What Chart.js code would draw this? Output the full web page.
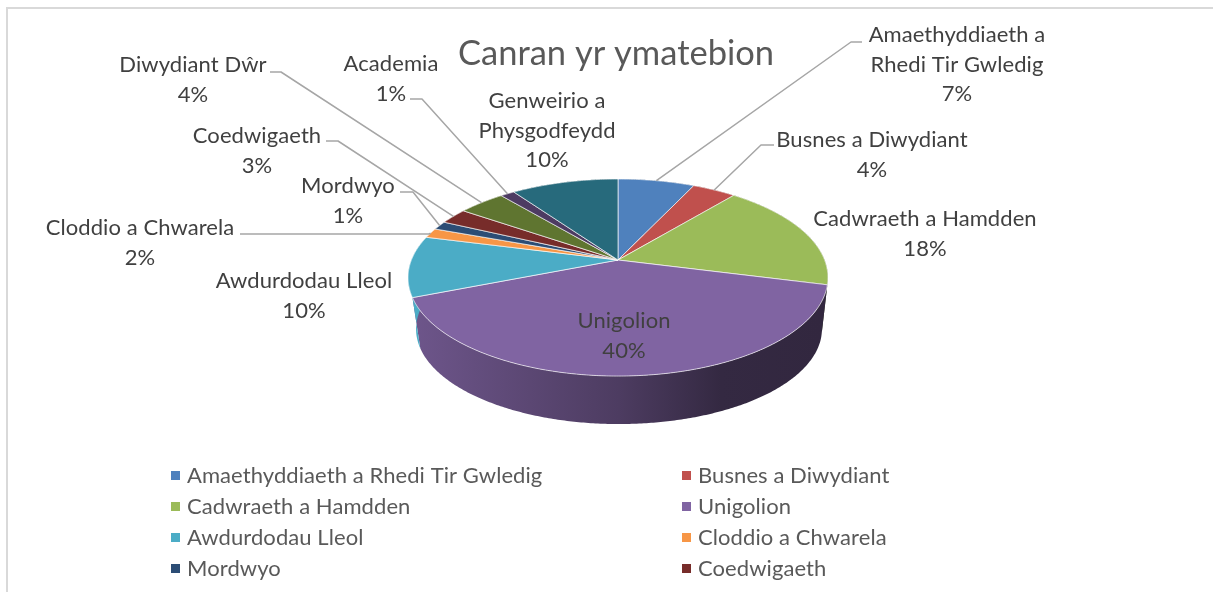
<!DOCTYPE html>
<html>
<head>
<meta charset="utf-8">
<title>Canran yr ymatebion</title>
<script src="https://cdn.jsdelivr.net/npm/chart.js@4"></script>
<style>
    html, body { margin: 0; padding: 0; background: #fff; overflow: hidden; }
    #frame { position: absolute; left: 6px; top: 7px; right: 0; bottom: 0; border-left: 2px solid #d9d9d9; border-top: 2px solid #d9d9d9; }
    canvas { position: absolute; left: 0; top: 0; }
</style>
</head>
<body>
<div id="frame"></div>
<canvas id="pieChart" width="1213" height="592"></canvas>
<script>
// Datos
const chartTitle = 'Canran yr ymatebion';
const categories = [
    'Amaethyddiaeth a Rhedi Tir Gwledig',
    'Busnes a Diwydiant',
    'Cadwraeth a Hamdden',
    'Unigolion',
    'Awdurdodau Lleol',
    'Cloddio a Chwarela',
    'Mordwyo',
    'Coedwigaeth',
    'Diwydiant Dŵr',
    'Academia',
    'Genweirio a Physgodfeydd'
];
// Estimados de la imagen: las etiquetas muestran estos valores redondeados
const percentages = [7, 4, 18, 40, 10, 1.6, 1.4, 2.6, 4.3, 1.3, 9.8];
const sliceColors = ['#4f81bd', '#c0504d', '#9bbb59', '#8064a2', '#4bacc6', '#f79646', '#2c4d75', '#772c2a', '#5f7530', '#4d3b62', '#276a7c'];

// Etiquetas partidas en lineas, como en la imagen
const labelLines = [
    ['Amaethyddiaeth a', 'Rhedi Tir Gwledig'],
    ['Busnes a Diwydiant'],
    ['Cadwraeth a Hamdden'],
    ['Unigolion'],
    ['Awdurdodau Lleol'],
    ['Cloddio a Chwarela'],
    ['Mordwyo'],
    ['Coedwigaeth'],
    ['Diwydiant Dŵr'],
    ['Academia'],
    ['Genweirio a', 'Physgodfeydd']
];

// Colocacion de cada etiqueta: centro x, y de la primera linea, y codo de la linea guia
const labelLayout = [
    { x: 957, y: 35, leader: [[862, 42], [851, 42]] },
    { x: 872, y: 140, leader: [[774, 145], [761, 145]] },
    { x: 925, y: 219 },
    { x: 624, y: 321 },
    { x: 304, y: 281 },
    { x: 140, y: 228, leader: [[240, 234], [429, 234]] },
    { x: 348, y: 186, leader: [[400, 192], [413, 192]] },
    { x: 257, y: 136, leader: [[326, 141], [338, 141]] },
    { x: 193, y: 65, leader: [[270, 72], [281, 72]] },
    { x: 391, y: 64, leader: [[410, 99], [422, 99]] },
    { x: 547, y: 101 }
];

// Proyeccion del disco (perspectiva del pastel 3D)
const apex = { x: 618, y: 260 };
const tilt = 0.178;
const spreadX = 206.6;
const spreadY = 95.4;
const topRim = { x: 618, y: 277.5, rx: 210, ry: 98.5 };
const bottomRim = { x: 619, y: 329, rx: 203, ry: 95 };

function projectTop(theta) {
    const sx = Math.sin(theta);
    const sy = Math.cos(theta);
    const d = 1 + tilt * sy;
    return { x: apex.x + spreadX * sx / d, y: apex.y - spreadY * sy / d };
}

function projectBottom(theta) {
    const p = projectTop(theta);
    return {
        x: bottomRim.x + (p.x - topRim.x) * bottomRim.rx / topRim.rx,
        y: bottomRim.y + (p.y - topRim.y) * bottomRim.ry / topRim.ry
    };
}

function shade(hex, f) {
    const n = parseInt(hex.slice(1), 16);
    const r = Math.round(((n >> 16) & 255) * f);
    const g = Math.round(((n >> 8) & 255) * f);
    const b = Math.round((n & 255) * f);
    return `rgb(${r}, ${g}, ${b})`;
}

function sliceAngles(el) {
    return { a: el.startAngle + Math.PI / 2, b: el.endAngle + Math.PI / 2 };
}

function sampleAngles(a, b) {
    const steps = Math.max(2, Math.ceil((b - a) / 0.01));
    return Array.from({ length: steps + 1 }, (_, i) => a + (b - a) * i / steps);
}

// Dibuja los sectores de la libreria con la perspectiva del disco
const pie3d = {
    id: 'pie3d',
    beforeDatasetsDraw(chart) {
        const ctx = chart.ctx;
        const arcs = chart.getDatasetMeta(0).data;

        // Pared lateral
        arcs.forEach((el, i) => {
            const { a, b } = sliceAngles(el);
            const angles = sampleAngles(a, b);
            const grad = ctx.createLinearGradient(bottomRim.x - bottomRim.rx, 0, bottomRim.x + bottomRim.rx, 0);
            grad.addColorStop(0, i === 3 ? shade(sliceColors[i], 0.85) : sliceColors[i]);
            grad.addColorStop(0.5, shade(sliceColors[i], 0.6));
            grad.addColorStop(0.75, shade(sliceColors[i], 0.41));
            grad.addColorStop(1, shade(sliceColors[i], 0.39));
            ctx.beginPath();
            angles.forEach((t, k) => {
                const p = projectTop(t);
                if (k === 0) ctx.moveTo(p.x, p.y); else ctx.lineTo(p.x, p.y);
            });
            angles.slice().reverse().forEach(t => {
                const p = projectBottom(t);
                ctx.lineTo(p.x, p.y);
            });
            ctx.closePath();
            ctx.fillStyle = grad;
            ctx.fill();
        });

        // Cara superior
        arcs.forEach((el, i) => {
            const { a, b } = sliceAngles(el);
            ctx.beginPath();
            ctx.moveTo(apex.x, apex.y);
            sampleAngles(a, b).forEach(t => {
                const p = projectTop(t);
                ctx.lineTo(p.x, p.y);
            });
            ctx.closePath();
            ctx.fillStyle = sliceColors[i];
            ctx.fill();
            ctx.strokeStyle = 'rgba(255, 255, 255, 0.65)';
            ctx.lineWidth = 1;
            ctx.lineJoin = 'round';
            ctx.stroke();
        });
        return false;
    },
    afterDraw(chart) {
        const ctx = chart.ctx;
        const arcs = chart.getDatasetMeta(0).data;

        // Lineas guia
        ctx.strokeStyle = '#a6a6a6';
        ctx.lineWidth = 1.5;
        labelLayout.forEach((place, i) => {
            if (!place.leader) return;
            const { a, b } = sliceAngles(arcs[i]);
            const end = projectTop((a + b) / 2);
            ctx.beginPath();
            place.leader.forEach((pt, k) => {
                if (k === 0) ctx.moveTo(pt[0], pt[1]); else ctx.lineTo(pt[0], pt[1]);
            });
            ctx.lineTo(end.x, end.y);
            ctx.stroke();
        });

        // Etiquetas de datos
        ctx.font = '22px Lato';
        ctx.letterSpacing = '0.08px';
        ctx.fillStyle = '#404040';
        ctx.textAlign = 'center';
        ctx.textBaseline = 'middle';
        labelLayout.forEach((place, i) => {
            const lines = labelLines[i].concat(Math.round(percentages[i]) + '%');
            lines.forEach((line, k) => ctx.fillText(line, place.x, place.y + k * 29.7));
        });

        // Leyenda en dos columnas
        ctx.textAlign = 'left';
        categories.forEach((name, i) => {
            const col = i % 2;
            const row = Math.floor(i / 2);
            const y = 476 + row * 31;
            if (y > chart.height) return;
            const x = col === 0 ? 171 : 682;
            ctx.fillStyle = sliceColors[i];
            ctx.fillRect(x, y - 5, 9, 9);
            ctx.fillStyle = '#595959';
            ctx.fillText(name, x + 16, y);
        });
    }
};

const chart = new Chart(document.getElementById('pieChart').getContext('2d'), {
    type: 'pie',
    data: {
        labels: categories,
        datasets: [{
            label: chartTitle,
            data: percentages,
            backgroundColor: sliceColors
        }]
    },
    options: {
        responsive: false,
        animation: false,
        layout: { padding: { left: 19 } },
        plugins: {
            legend: { display: false },
            tooltip: { enabled: false },
            title: {
                display: true,
                text: chartTitle,
                color: '#595959',
                font: { family: 'Lato', size: 34.5, weight: 'normal' },
                padding: { top: 33, bottom: 0 }
            }
        }
    },
    plugins: [pie3d]
});
</script>
</body>
</html>
